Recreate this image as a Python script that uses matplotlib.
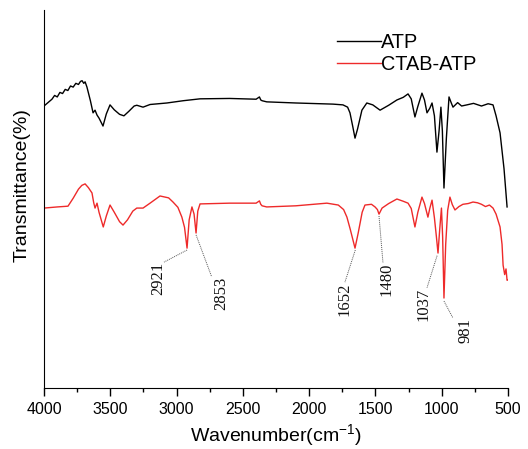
import matplotlib
matplotlib.use('Agg')
import matplotlib.pyplot as plt

plt.rcParams['font.family'] = 'Liberation Sans'
plt.rcParams['mathtext.fontset'] = 'custom'
plt.rcParams['mathtext.rm'] = 'Liberation Sans'

# FTIR spectra (wavenumber, transmittance in arbitrary units)
atp_wn = [4000, 3960, 3940, 3920, 3900, 3880, 3860, 3840, 3820, 3800, 3780, 3760,
          3740, 3725, 3713, 3700, 3690, 3676, 3650, 3630, 3615, 3600, 3585, 3555,
          3530, 3502, 3470, 3430, 3397, 3360, 3320, 3300, 3253, 3200, 3073, 2950,
          2823, 2600, 2400, 2375, 2365, 2355, 2320, 2100, 1820, 1745, 1710, 1692,
          1670, 1654, 1635, 1602, 1565, 1520, 1465, 1400, 1338, 1290, 1254, 1230,
          1202, 1180, 1149, 1130, 1111, 1090, 1073, 1055, 1036, 1020, 1006, 995,
          983, 965, 945, 930, 915, 880, 850, 810, 760, 700, 650, 613, 590, 560,
          530, 507]
atp_t = [74.6, 75.8, 76.4, 77.4, 77.0, 78.2, 77.9, 79.0, 78.7, 79.9, 79.6, 80.6,
         80.3, 81.1, 81.3, 80.6, 81.0, 79.6, 76.0, 72.8, 73.5, 72.2, 71.4, 69.3,
         72.5, 74.9, 73.6, 72.4, 72.0, 73.2, 74.6, 74.8, 74.3, 75.0, 75.4, 76.0,
         76.5, 76.6, 76.4, 77.0, 76.2, 76.0, 75.7, 75.4, 75.1, 74.9, 74.3, 72.8,
         69.0, 66.1, 68.5, 73.5, 75.4, 74.9, 73.5, 74.8, 76.2, 76.9, 77.8, 76.5,
         71.7, 74.5, 78.0, 76.2, 72.8, 74.0, 75.4, 72.0, 62.4, 68.0, 74.3, 68.0,
         52.9, 66.0, 77.0, 75.6, 74.3, 75.5, 74.6, 74.9, 75.3, 74.6, 75.2, 74.9,
         72.0, 67.5, 58.0, 47.9]

ctab_wn = [4000, 3900, 3819, 3780, 3740, 3715, 3690, 3665, 3638, 3625, 3615, 3600,
           3585, 3553, 3530, 3502, 3470, 3430, 3404, 3370, 3330, 3300, 3253, 3200,
           3125, 3060, 3027, 2990, 2960, 2940, 2921, 2905, 2884, 2868, 2853, 2840,
           2823, 2600, 2400, 2375, 2365, 2355, 2320, 2100, 1866, 1780, 1740, 1715,
           1690, 1654, 1630, 1600, 1579, 1530, 1503, 1485, 1473, 1450, 1400, 1338,
           1290, 1254, 1230, 1202, 1180, 1149, 1130, 1104, 1090, 1073, 1055, 1040,
           1028, 1015, 1002, 993, 983, 970, 955, 938, 920, 900, 870, 840, 800, 764,
           730, 700, 670, 640, 613, 590, 560, 545, 537, 525, 515, 507, 500]
ctab_t = [47.6, 47.9, 48.1, 50.2, 52.6, 53.6, 54.0, 53.0, 51.6, 49.0, 47.6, 48.9,
          46.5, 42.6, 45.5, 48.4, 46.5, 44.0, 43.1, 44.5, 46.8, 47.6, 47.6, 48.9,
          50.8, 50.3, 49.2, 47.8, 45.2, 42.5, 37.0, 44.5, 47.9, 46.0, 41.0, 46.8,
          48.7, 48.9, 48.9, 49.5, 48.6, 48.2, 47.9, 48.2, 48.9, 48.4, 47.2, 45.2,
          42.0, 37.0, 41.0, 46.5, 48.4, 48.6, 47.9, 47.2, 46.0, 47.6, 48.8, 50.0,
          49.4, 48.9, 47.5, 42.6, 46.5, 50.5, 48.8, 45.2, 47.5, 49.7, 45.0, 40.0,
          35.7, 42.0, 47.6, 40.0, 23.8, 38.0, 47.0, 50.5, 48.5, 47.1, 48.0, 48.6,
          48.8, 49.2, 49.0, 48.6, 48.0, 48.4, 47.6, 46.0, 42.6, 38.0, 32.5, 30.0,
          31.5, 28.5, 28.6]

# peak labels: (peak wavenumber, peak value, label anchor x, label top y)
peak_labels = ['2921', '2853', '1652', '1480', '1037', '981']
peak_wn = [2921, 2853, 1652, 1473, 1035, 983]
peak_t = [36.5, 40.5, 36.5, 45.5, 35.0, 23.0]
label_x = [3140, 2661, 1737, 1420, 1134, 817]
label_top = [33.3, 29.4, 28.0, 33.1, 26.5, 18.5]
line_end_x = [3095, 2735, 1730, 1443, 1111, 915]

fig = plt.figure(figsize=(5.28, 4.49), dpi=100)
ax = fig.add_axes([44 / 528, 1 - 388 / 449, 464 / 528, 378 / 449])

ax.plot(atp_wn, atp_t, color='black', lw=1.0, label='ATP')
ax.plot(ctab_wn, ctab_t, color='#ee2a2a', lw=1.0, label='CTAB-ATP')

for lab, pw, pt, lx, lt, ex in zip(peak_labels, peak_wn, peak_t, label_x, label_top, line_end_x):
    ax.plot([pw, ex], [pt, lt], color='#555555', lw=0.7, ls=(0, (1, 1)))
    ax.text(lx, lt, lab, rotation=90, ha='center', va='top', fontsize=12,
            family='Liberation Serif', color='#111111')

ax.set_xlim(4000, 500)
ax.set_ylim(0, 100)
ax.set_xticks([4000, 3500, 3000, 2500, 2000, 1500, 1000, 500])
ax.set_xticks([3750, 3250, 2750, 2250, 1750, 1250, 750], minor=True)
ax.tick_params(axis='x', which='major', direction='out', length=6, width=1, labelsize=11.5, pad=4)
ax.tick_params(axis='x', which='minor', direction='out', length=3, width=1)
ax.set_yticks([])
ax.spines['top'].set_visible(False)
ax.spines['right'].set_visible(False)

ax.set_xlabel('Wavenumber(cm$^{\\mathregular{-1}}$)', fontsize=14, labelpad=4)
fig.text(22 / 528, 1 - 185 / 449, 'Transmittance(%)', rotation=90,
         ha='center', va='center', fontsize=14)

ax.legend(loc='upper left', bbox_to_anchor=(337 / 528, 1 - 33 / 449),
          bbox_transform=fig.transFigure, frameon=False, fontsize=14.3,
          handlelength=2.2, handletextpad=0.0, labelspacing=0.15,
          borderpad=0, borderaxespad=0)

fig.savefig('out.png', dpi=100)
